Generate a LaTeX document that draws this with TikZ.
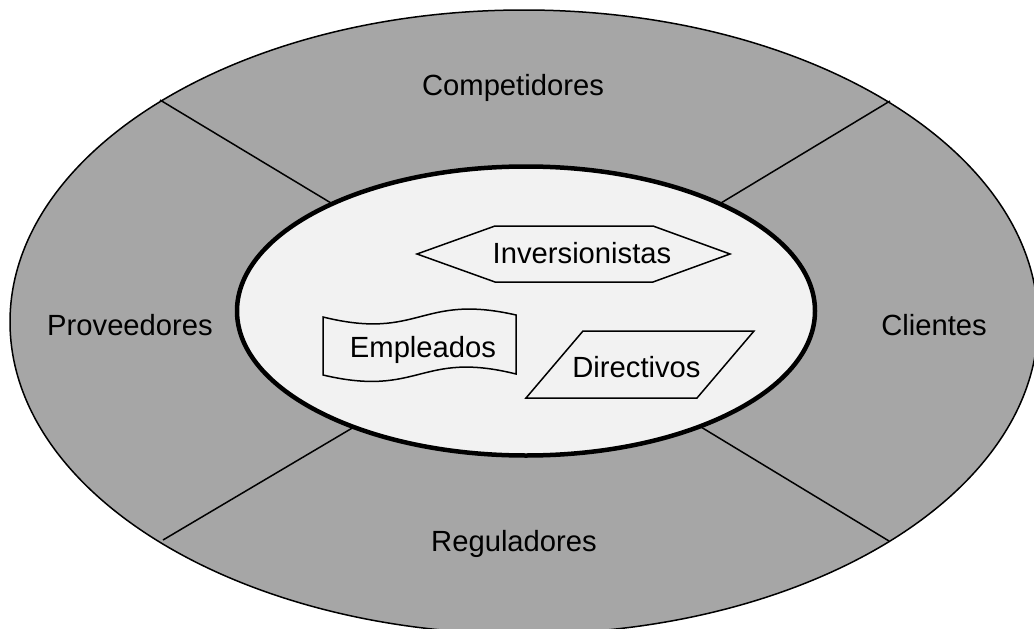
\documentclass[tikz,border=0pt]{standalone}
\usepackage{fontspec}
\setmainfont{Liberation Sans}
\definecolor{outergray}{RGB}{166,166,166}
\definecolor{innerfill}{RGB}{242,242,242}
\begin{document}
\begin{tikzpicture}[x=1pt,y=-1pt,
  lbl/.style={font=\fontsize{29.2}{35}\selectfont, inner sep=0pt, anchor=base},
  thinline/.style={line width=1.5pt, line join=miter},
  ring/.style={line width=1.5pt},
  core/.style={line width=4.5pt, fill=innerfill}]
\useasboundingbox (0,0) rectangle (1034,629);
\begin{scope}
  \clip (0,0) rectangle (1034,629);
  \fill[outergray] (524,322) ellipse [x radius=514pt, y radius=312pt];
  % dividing lines
  \coordinate (tlo) at (160,100);  \coordinate (tli) at (336,206);
  \coordinate (tro) at (890,101);  \coordinate (tri) at (716,206);
  \coordinate (blo) at (163,540);  \coordinate (bli) at (354,427);
  \coordinate (bro) at (889,541);  \coordinate (bri) at (696,424);
  \draw[thinline] (tlo) -- (tli);
  \draw[thinline] (tro) -- (tri);
  \draw[thinline] (blo) -- (bli);
  \draw[thinline] (bro) -- (bri);
  \draw[ring] (524,322) ellipse [x radius=514pt, y radius=312pt];
\end{scope}
% inner ellipse
\draw[core] (526,311) ellipse [x radius=289pt, y radius=144.5pt];
% shapes
\draw[thinline] (417,254) -- (495,226) -- (653,226) -- (730,254) -- (653,282) -- (495,282) -- cycle;
\draw[thinline] (583,331) -- (754,331) -- (697,398) -- (526,398) -- cycle;
\draw[thinline] (323,317) .. controls (420,341) and (420,293) .. (516,315)
  -- (516,374) .. controls (420,350) and (420,398) .. (323,375) -- cycle;
% labels
\node[lbl] (comp) at (513,95) {Competidores};
\node[lbl] (prov) at (130,335) {Proveedores};
\node[lbl] (cli) at (934,335) {Clientes};
\node[lbl] (reg) at (514,551) {Reguladores};
\node[lbl] (inv) at (582,263) {Inversionistas};
\node[lbl] (emp) at (423,357) {Empleados};
\node[lbl] (dir) at (636.5,377) {Directivos};
\end{tikzpicture}
\end{document}
